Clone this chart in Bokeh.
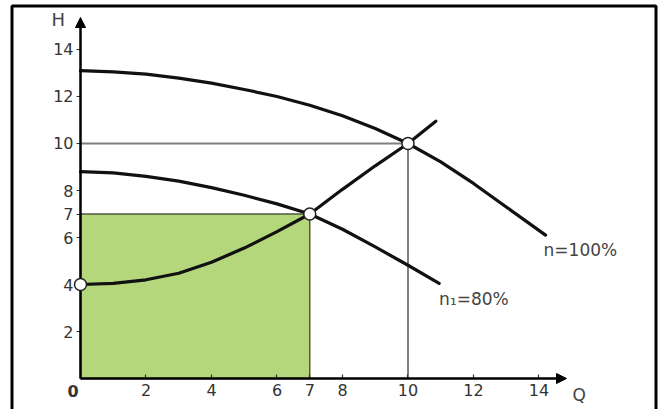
from bokeh.plotting import figure
from bokeh.models import (LinearAxis, FixedTicker, Arrow, NormalHead, BoxAnnotation,
                          Range1d, Label)
from bokeh.core.properties import value
from bokeh.embed import file_html
from bokeh.resources import INLINE

# ---- data ----
q_ticks = [2, 4, 6, 7, 8, 10, 12, 14]
h_ticks = [2, 4, 6, 7, 8, 10, 12, 14]

pump100_q = [0, 1, 2, 3, 4, 5, 6, 7, 8, 9, 10, 11, 12, 13, 14.2]
pump100_h = [13.1, 13.05, 12.95, 12.78, 12.57, 12.3, 12.0, 11.63, 11.18, 10.64, 10.0, 9.22, 8.3, 7.3, 6.1]

pump80_q = [0, 1, 2, 3, 4, 5, 6, 7, 8, 9, 10, 10.95]
pump80_h = [8.8, 8.75, 8.6, 8.4, 8.12, 7.8, 7.43, 7.0, 6.35, 5.6, 4.82, 4.05]

system_q = [0, 1, 2, 3, 4, 5, 6, 7, 8, 9, 10, 10.85]
system_h = [4.0, 4.05, 4.2, 4.48, 4.95, 5.55, 6.25, 7.0, 8.05, 9.05, 10.0, 10.95]

op_q = [0, 7, 10]
op_h = [4, 7, 10]

label100 = "n=100%"
label80 = "n\u2081=80%"
x_title = "Q"
y_title = "H"
q_axis_end = 14.84
h_axis_end = 15.36

W, H = 662, 409
p = figure(width=W, height=H, output_backend="svg", toolbar_location=None,
           x_range=Range1d(-2.4427, 17.771), y_range=Range1d(-1.319, 16.085),
           x_axis_location=None, y_axis_location=None, min_border=0,
           background_fill_color="white", border_fill_color="white",
           outline_line_color=None)
p.grid.visible = False

# green operating area
p.quad(left=[0], right=[op_q[1]], bottom=[0], top=[op_h[1]],
       fill_color="#b4d77c", line_color="#4f5b40", line_width=1.5)

# guide lines to the 100% operating point
p.segment(x0=[0, op_q[2]], y0=[op_h[2], 0], x1=[op_q[2], op_q[2]], y1=[op_h[2], op_h[2]],
          line_color="#808080", line_width=2)

# curves
for qs, hs in ((pump100_q, pump100_h), (pump80_q, pump80_h), (system_q, system_h)):
    p.line(qs, hs, line_color="#111111", line_width=3.2, line_join="round", line_cap="round")

# operating points
pts = p.scatter(op_q, op_h, size=12, fill_color="white", line_color="#222222", line_width=1.5)
pts.level = "overlay"

# curve labels
p.text(x=[pump100_q[-1]], y=[pump100_h[-1]], text=[label100], x_offset=-2, y_offset=15,
       text_font=value("DejaVu Sans"), text_font_size="17px", text_color="#444444",
       text_baseline="alphabetic", text_align="left")
p.text(x=[pump80_q[-1]], y=[pump80_h[-1]], text=[label80], x_offset=0, y_offset=16,
       text_font=value("DejaVu Sans"), text_font_size="17px", text_color="#444444",
       text_baseline="alphabetic", text_align="left")

# axes at the origin
yax = LinearAxis(fixed_location=0, ticker=FixedTicker(ticks=h_ticks))
xax = LinearAxis(fixed_location=0, ticker=FixedTicker(ticks=q_ticks))
for ax in (xax, yax):
    ax.axis_line_color = None
    ax.minor_tick_line_color = None
    ax.major_tick_line_color = "#333333"
    ax.major_tick_line_width = 1.2
    ax.major_label_text_font = "DejaVu Sans"
    ax.major_label_text_font_size = "16px"
    ax.major_label_text_color = "#333333"
yax.major_tick_out = 4
yax.major_tick_in = 0
yax.major_label_standoff = 3
xax.major_tick_out = 0
xax.major_tick_in = 4
xax.major_label_standoff = 5
p.add_layout(yax, "left")
p.add_layout(xax, "below")

# axis lines with arrow heads
p.add_layout(Arrow(end=NormalHead(size=10, fill_color="black", line_color="black"),
                   x_start=0, y_start=0, x_end=q_axis_end, y_end=0,
                   line_color="black", line_width=2.5))
p.add_layout(Arrow(end=NormalHead(size=10, fill_color="black", line_color="black"),
                   x_start=0, y_start=0, x_end=0, y_end=h_axis_end,
                   line_color="black", line_width=2.5))

# axis titles and origin label
p.add_layout(Label(x=q_axis_end, y=0, text=x_title, x_offset=6, y_offset=-26,
                   text_font="DejaVu Sans", text_font_size="17px", text_color="#444444"))
p.add_layout(Label(x=0, y=h_axis_end, text=y_title, x_offset=-29, y_offset=-12,
                   text_font="DejaVu Sans", text_font_size="18px", text_color="#444444"))
p.add_layout(Label(x=0, y=0, text="0", x_offset=-13, y_offset=-18,
                   text_font="DejaVu Sans", text_font_size="16px", text_font_style="bold",
                   text_color="#333333"))

# outer frame
p.add_layout(BoxAnnotation(left=11.5, right=655.5, top=5.5, bottom=440,
                           left_units="canvas", right_units="canvas",
                           top_units="canvas", bottom_units="canvas",
                           fill_color=None, line_color="black", line_width=3, line_alpha=1))

open("out.html", "w").write(file_html(p, INLINE))
